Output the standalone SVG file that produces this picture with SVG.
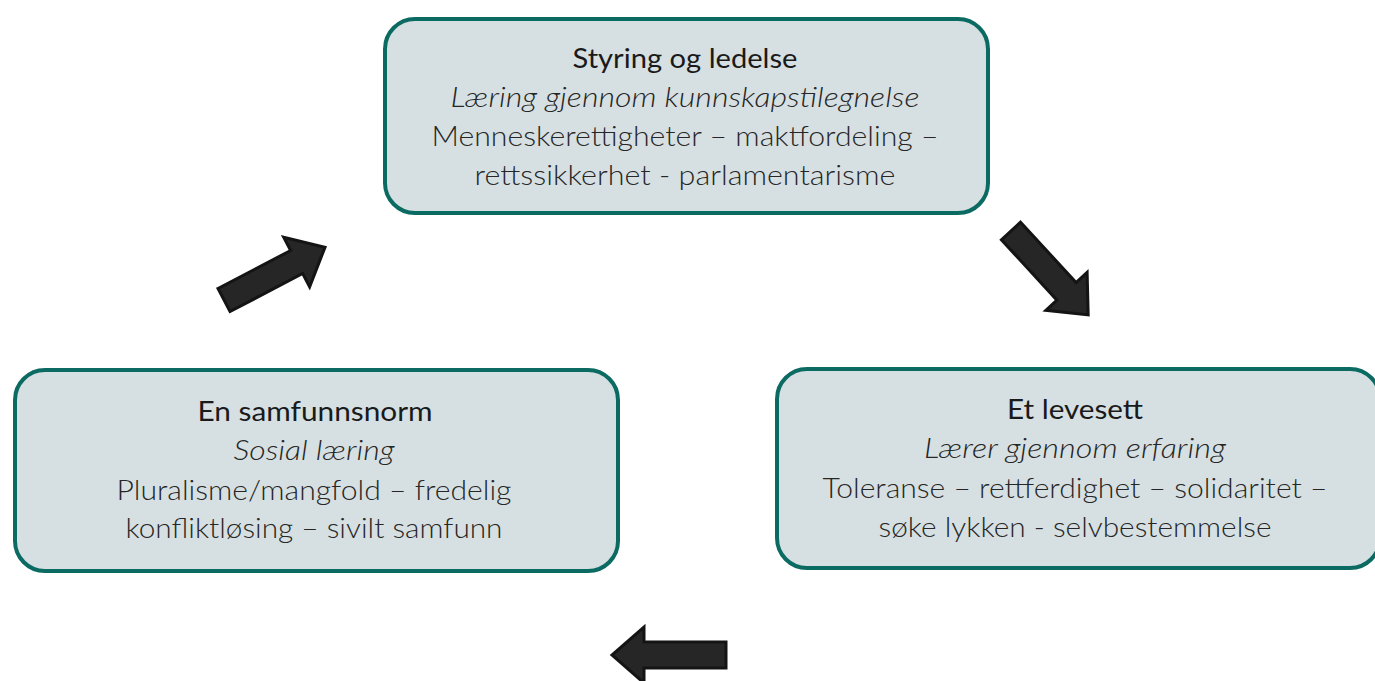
<svg xmlns="http://www.w3.org/2000/svg" width="1375" height="681" viewBox="0 0 1375 681">
  <style>
    .box { fill: #d6e0e2; stroke: #0b6b62; stroke-width: 4; }
    .t { font-family: Lato, "Open Sans", sans-serif; font-size: 27px; fill: #262626; text-anchor: middle; }
    .title { font-weight: 400; fill: #1a1a1a; }
    .it { font-style: italic; font-weight: 300; }
    .body { font-weight: 300; }
    .arrow { fill: #262626; stroke: #141414; stroke-width: 3; stroke-linejoin: miter; }
  </style>
  <defs>
    <path id="arr" d="M0,-13 L82,-13 L82,-28 L114,0 L82,28 L82,13 L0,13 Z"/>
  </defs>
  <rect width="1375" height="681" fill="#ffffff"/>
  <g id="node-styring">
    <rect class="box" x="385" y="19" width="603" height="194" rx="30"/>
    <text class="t title" x="685" y="68" textLength="225" lengthAdjust="spacingAndGlyphs">Styring og ledelse</text>
    <text class="t it" x="685" y="107" textLength="469" lengthAdjust="spacingAndGlyphs">Læring gjennom kunnskapstilegnelse</text>
    <text class="t body" x="685" y="146" textLength="507" lengthAdjust="spacingAndGlyphs">Menneskerettigheter – maktfordeling –</text>
    <text class="t body" x="685" y="185" textLength="421" lengthAdjust="spacingAndGlyphs">rettssikkerhet - parlamentarisme</text>
  </g>
  <g id="node-samfunnsnorm">
    <rect class="box" x="15" y="370" width="603" height="201" rx="30"/>
    <text class="t title" x="315" y="421" textLength="235" lengthAdjust="spacingAndGlyphs">En samfunnsnorm</text>
    <text class="t it" x="314" y="460" textLength="161" lengthAdjust="spacingAndGlyphs">Sosial læring</text>
    <text class="t body" x="314" y="500" textLength="395" lengthAdjust="spacingAndGlyphs">Pluralisme/mangfold – fredelig</text>
    <text class="t body" x="314" y="538" textLength="377" lengthAdjust="spacingAndGlyphs">konfliktløsing – sivilt samfunn</text>
  </g>
  <g id="node-levesett">
    <rect class="box" x="777" y="369" width="603" height="199" rx="30"/>
    <text class="t title" x="1075" y="419" textLength="136" lengthAdjust="spacingAndGlyphs">Et levesett</text>
    <text class="t it" x="1075" y="458" textLength="302" lengthAdjust="spacingAndGlyphs">Lærer gjennom erfaring</text>
    <text class="t body" x="1075" y="498" textLength="505" lengthAdjust="spacingAndGlyphs">Toleranse – rettferdighet – solidaritet –</text>
    <text class="t body" x="1075" y="537" textLength="393" lengthAdjust="spacingAndGlyphs">søke lykken - selvbestemmelse</text>
  </g>
  <g id="connectors">
    <use href="#arr" class="arrow" transform="translate(224,300) rotate(-27.6)"/>
    <use href="#arr" class="arrow" transform="translate(1011,231) rotate(47.4)"/>
    <use href="#arr" class="arrow" transform="translate(726,655) rotate(180)"/>
  </g>
</svg>
